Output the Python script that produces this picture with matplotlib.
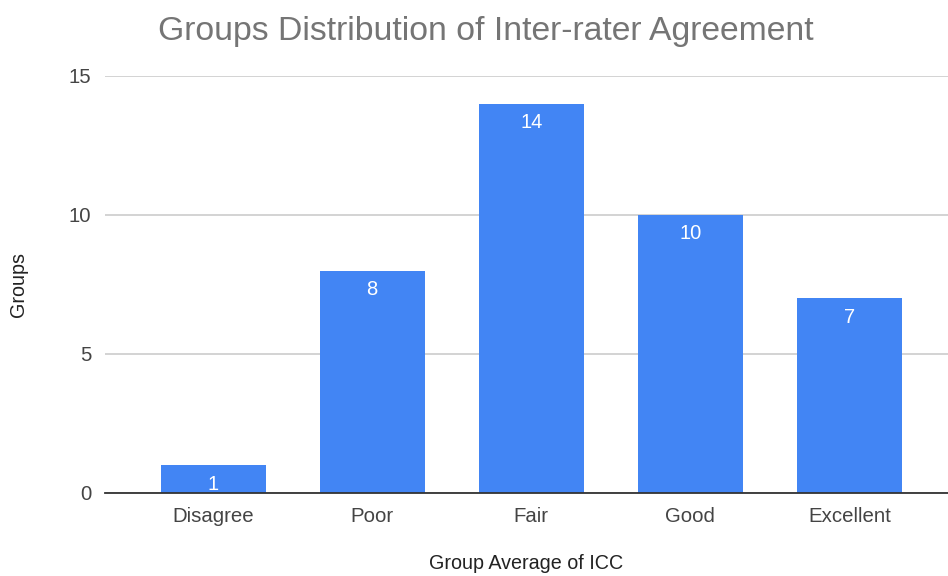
import numpy as np
import matplotlib.pyplot as plt

plt.rcParams['font.family'] = ['Liberation Sans', 'DejaVu Sans']

# ICC agreement categories and number of groups in each
categories = ['Disagree', 'Poor', 'Fair', 'Good', 'Excellent']
groups = [1, 8, 14, 10, 7]
yticks = [0, 5, 10, 15]

fig = plt.figure(figsize=(9.48, 5.76), dpi=100)
ax = fig.add_axes([0.1108, 0.1441, 0.8892, 0.7240])

x = np.arange(len(categories))
bars = ax.bar(x, groups, width=0.66, color='#4285F4', zorder=3)

for b, v in zip(bars, groups):
    ax.annotate(str(v), (b.get_x() + b.get_width() / 2, v),
                xytext=(0, -19), textcoords='offset pixels',
                ha='center', va='center', color='white', fontsize=14.5, zorder=4)

ax.set_xlim(-0.68, 4.62)
ax.set_ylim(0, 15)
ax.set_yticks(yticks)
ax.set_xticks(x)
ax.set_xticklabels(categories)
ax.tick_params(axis='both', length=0, labelsize=14.7, labelcolor='#444444')
ax.tick_params(axis='y', pad=10)
ax.tick_params(axis='x', pad=10)

ax.grid(axis='y', color='#cccccc', linewidth=1.2, zorder=0)
for s in ['top', 'right', 'left']:
    ax.spines[s].set_visible(False)
ax.spines['bottom'].set_color('#333333')
ax.spines['bottom'].set_linewidth(1.3)
ax.spines['bottom'].set_zorder(5)

ax.set_xlabel('Group Average of ICC', fontsize=14.2, color='#222222', labelpad=20)
ax.set_ylabel('Groups', fontsize=14.2, color='#222222', labelpad=29)

fig.suptitle('Groups Distribution of Inter-rater Agreement', x=0.512, y=0.972,
             va='top', fontsize=24.3, color='#757575')

fig.savefig('out.png', dpi=100)
